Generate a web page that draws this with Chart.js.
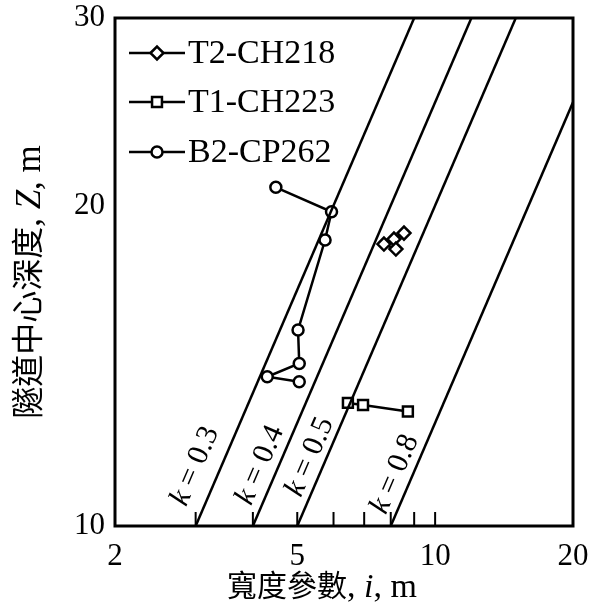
<!DOCTYPE html>
<html>
<head>
<meta charset="utf-8">
<script src="https://cdn.jsdelivr.net/npm/chart.js@4.4.1/dist/chart.umd.min.js"></script>
<style>
  body { margin: 0; background: #fff; }
</style>
</head>
<body>
<canvas id="chart" width="590" height="607"></canvas>
<script>
const xTicks = [2, 5, 10, 20];
const yTicks = [10, 20, 30];
const minorXTicks = [3, 4, 5, 6, 7, 8, 9, 10];

// k = i / Z reference lines
const kValues = [0.3, 0.4, 0.5, 0.8];
const kLineI = [[3, 9], [4, 12], [5, 15], [8, 20]];
const kLineZ = [[10, 30], [10, 30], [10, 30], [10, 25]];
const kLabelI = [2.99, 4.15, 5.33, 8.17];
const kLabelZ = [11.38, 11.41, 11.61, 11.19];

// measured points
const seriesNames = ['T2-CH218', 'T1-CH223', 'B2-CP262'];
const t2I = [8.55, 8.13, 7.73, 8.21];
const t2Z = [18.84, 18.6, 18.4, 18.2];
const t1I = [6.45, 6.96, 8.72];
const t1Z = [13.05, 12.99, 12.81];
const b2I = [4.49, 5.94, 5.75, 5.02, 5.05, 4.30, 5.05];
const b2Z = [20.8, 19.73, 18.56, 15.28, 14.21, 13.81, 13.66];

const SERIF = '"Liberation Serif", "Noto Sans CJK TC", serif';
const pts = (xs, ys) => xs.map((x, j) => ({ x, y: ys[j] }));

const kSets = kValues.map((k, j) => ({
  label: 'k=' + k,
  data: pts(kLineI[j], kLineZ[j]),
  showLine: true,
  borderColor: '#000',
  borderWidth: 2.5,
  pointRadius: 0
}));

const marker = (style, r) => ({
  showLine: true,
  borderColor: '#000',
  borderWidth: 2.5,
  pointStyle: style,
  pointRadius: r,
  pointBackgroundColor: '#fff',
  pointBorderColor: '#000',
  pointBorderWidth: 2.5
});

const seriesSets = [
  Object.assign({ label: seriesNames[0], data: pts(t2I, t2Z) }, marker('rectRot', 6.5)),
  Object.assign({ label: seriesNames[1], data: pts(t1I, t1Z) }, marker('rect', 7)),
  Object.assign({ label: seriesNames[2], data: pts(b2I, b2Z) }, marker('circle', 5.5))
];

// parts: [text, italic, size]
function drawParts(ctx, parts, x, y) {
  const fontOf = ([t, it, size]) => (it ? 'italic ' : '') + size + 'px ' + SERIF;
  let total = 0;
  const widths = parts.map(p => {
    ctx.font = fontOf(p);
    const w = ctx.measureText(p[0]).width;
    total += w;
    return w;
  });
  let cx = x - total / 2;
  parts.forEach((p, j) => {
    ctx.font = fontOf(p);
    ctx.fillText(p[0], cx, y);
    cx += widths[j];
  });
}

const decor = {
  id: 'decor',
  afterDraw(chart) {
    const ctx = chart.ctx;
    const ca = chart.chartArea;
    const xs = chart.scales.x, ys = chart.scales.y;
    ctx.save();
    ctx.strokeStyle = '#000';
    ctx.fillStyle = '#000';

    // frame
    ctx.lineWidth = 3;
    ctx.strokeRect(ca.left, ca.top, ca.right - ca.left, ca.bottom - ca.top);

    // inner minor ticks on the bottom axis
    ctx.lineWidth = 2;
    minorXTicks.forEach(v => {
      const px = xs.getPixelForValue(v);
      ctx.beginPath();
      ctx.moveTo(px, ca.bottom);
      ctx.lineTo(px, ca.bottom - 14);
      ctx.stroke();
    });

    // k labels along the lines
    const ang = Math.atan2(
      ys.getPixelForValue(kLineZ[0][1]) - ys.getPixelForValue(kLineZ[0][0]),
      xs.getPixelForValue(kLineI[0][1]) - xs.getPixelForValue(kLineI[0][0])
    );
    ctx.textBaseline = 'middle';
    ctx.textAlign = 'left';
    kValues.forEach((k, j) => {
      ctx.save();
      ctx.translate(xs.getPixelForValue(kLabelI[j]), ys.getPixelForValue(kLabelZ[j]));
      ctx.rotate(ang);
      drawParts(ctx, [['k', true, 30], [' = ' + k, false, 30]], 0, 0);
      ctx.restore();
    });

    // legend
    const legendY = [53, 102, 152];
    seriesSets.forEach((ds, j) => {
      const y = legendY[j];
      ctx.lineWidth = 2.5;
      ctx.strokeStyle = '#000';
      ctx.beginPath();
      ctx.moveTo(129, y);
      ctx.lineTo(185, y);
      ctx.stroke();
      ctx.fillStyle = '#fff';
      Chart.helpers.drawPoint(ctx, {
        pointStyle: ds.pointStyle, radius: ds.pointRadius, borderWidth: 2.5, rotation: 0
      }, 157, y);
      ctx.fillStyle = '#000';
      ctx.font = '34px ' + SERIF;
      ctx.textAlign = 'left';
      ctx.textBaseline = 'middle';
      ctx.fillText(ds.label, 188, y + 1);
    });

    // axis titles
    ctx.textBaseline = 'middle';
    ctx.textAlign = 'left';
    drawParts(ctx, [['寬度參數', false, 30], [', ', false, 34], ['i', true, 34], [', m', false, 34]], 322, 588);
    ctx.save();
    ctx.translate(31, 282);
    ctx.rotate(-Math.PI / 2);
    drawParts(ctx, [['隧道中心深度', false, 32], [', ', false, 35], ['Z', true, 35], [', m', false, 35]], 0, 0);
    ctx.restore();

    ctx.restore();
  }
};

new Chart(document.getElementById('chart'), {
  type: 'scatter',
  data: { datasets: kSets.concat(seriesSets) },
  plugins: [decor],
  options: {
    responsive: false,
    animation: false,
    layout: { padding: { top: 18, right: 17, left: 0, bottom: 0 } },
    plugins: { legend: { display: false }, tooltip: { enabled: false } },
    scales: {
      x: {
        type: 'logarithmic',
        min: 2,
        max: 20,
        grid: { display: false },
        border: { display: false },
        afterFit: s => { s.height = 81; s.paddingLeft = 0; s.paddingRight = 0; },
        ticks: {
          autoSkip: false,
          maxRotation: 0,
          padding: 4,
          color: '#000',
          font: { family: SERIF, size: 31 },
          callback: v => xTicks.includes(v) ? String(v) : ''
        }
      },
      y: {
        type: 'logarithmic',
        min: 10,
        max: 30,
        grid: { display: false },
        border: { display: false },
        afterFit: s => { s.width = 115; s.paddingTop = 0; s.paddingBottom = 0; },
        ticks: {
          autoSkip: false,
          padding: 2,
          color: '#000',
          font: { family: SERIF, size: 31 },
          callback: v => yTicks.includes(v) ? String(v) : ''
        }
      }
    }
  }
});
</script>
</body>
</html>
